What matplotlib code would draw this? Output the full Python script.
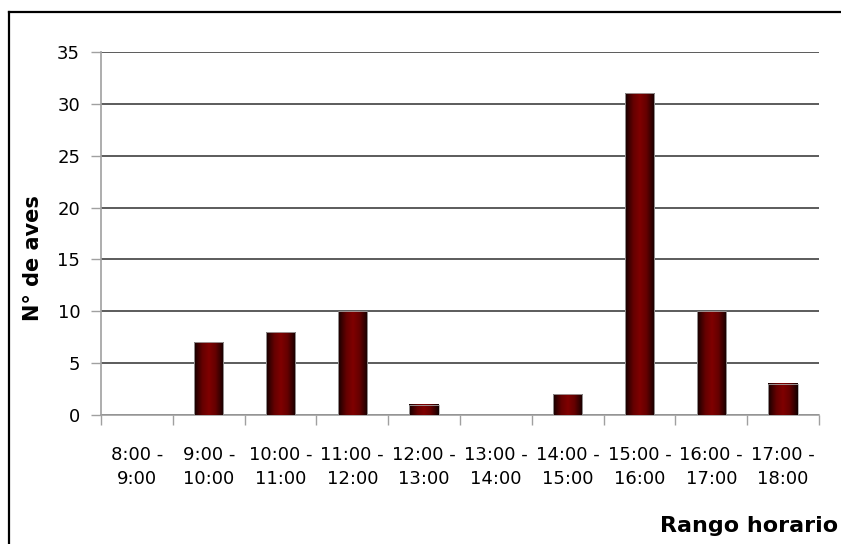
import numpy as np
import matplotlib
matplotlib.use("Agg")
import matplotlib.pyplot as plt
from matplotlib.colors import LinearSegmentedColormap
from matplotlib.lines import Line2D

# datos
rangos = ["8:00 -\n9:00", "9:00 -\n10:00", "10:00 -\n11:00", "11:00 -\n12:00",
          "12:00 -\n13:00", "13:00 -\n14:00", "14:00 -\n15:00", "15:00 -\n16:00",
          "16:00 -\n17:00", "17:00 -\n18:00"]
n_aves = [0, 7, 8, 10, 1, 0, 2, 31, 10, 3]
y_ticks = [0, 5, 10, 15, 20, 25, 30, 35]

W, H = 841, 544
plt.rcParams["font.family"] = ["DejaVu Sans"]

fig = plt.figure(figsize=(W / 100, H / 100), dpi=100)
ax = fig.add_axes([101 / W, (H - 415) / H, 718 / W, (415 - 52) / H])

# marco del gráfico (solo se ven borde izquierdo y superior)
fig.add_artist(Line2D([9 / W, 9 / W], [0, 1 - 12 / H], transform=fig.transFigure,
                      color="black", lw=1.6))
fig.add_artist(Line2D([9 / W, 1], [1 - 12 / H, 1 - 12 / H], transform=fig.transFigure,
                      color="black", lw=1.6))

x = np.arange(len(rangos))
bars = ax.bar(x, n_aves, width=0.41, facecolor="none", edgecolor="#a8a8a8",
              linewidth=0.6, zorder=4)

# relleno degradado tipo cilindro
cmap = LinearSegmentedColormap.from_list(
    "granate", [(0, "#120000"), (0.28, "#650000"), (0.5, "#800000"),
                (0.72, "#650000"), (1, "#120000")])
grad = np.linspace(0, 1, 256).reshape(1, -1)
for b in bars:
    if b.get_height() <= 0:
        continue
    x0, w, h = b.get_x(), b.get_width(), b.get_height()
    ax.imshow(grad, extent=[x0, x0 + w, 0, h], aspect="auto", cmap=cmap,
              zorder=3, interpolation="bilinear")

ax.set_xlim(-0.5, len(rangos) - 0.5)
ax.set_ylim(0, 35)

ax.set_yticks(y_ticks)
ax.yaxis.grid(True, color="#404040", linewidth=1.2)
ax.set_axisbelow(True)

ax.set_xticks(x)
ax.set_xticklabels(rangos, fontsize=13, linespacing=1.45)
ax.set_xticks(np.arange(len(rangos) + 1) - 0.5, minor=True)
ax.tick_params(axis="x", which="major", length=0, pad=22)
ax.tick_params(axis="x", which="minor", length=7, color="#a0a0a0", width=1)
ax.tick_params(axis="y", length=7, color="#a0a0a0", width=1, labelsize=13, pad=8)

for s in ["top", "right"]:
    ax.spines[s].set_visible(False)
for s in ["left", "bottom"]:
    ax.spines[s].set_color("#a0a0a0")
    ax.spines[s].set_linewidth(1.2)

fig.text(33 / W, 1 - 258 / H, "N° de aves", rotation=90, fontsize=15,
         fontweight="bold", ha="center", va="center")
fig.text(838 / W, 1 - 526 / H, "Rango horario", fontsize=16,
         fontweight="bold", ha="right", va="center")

fig.savefig("out.png", dpi=100)
